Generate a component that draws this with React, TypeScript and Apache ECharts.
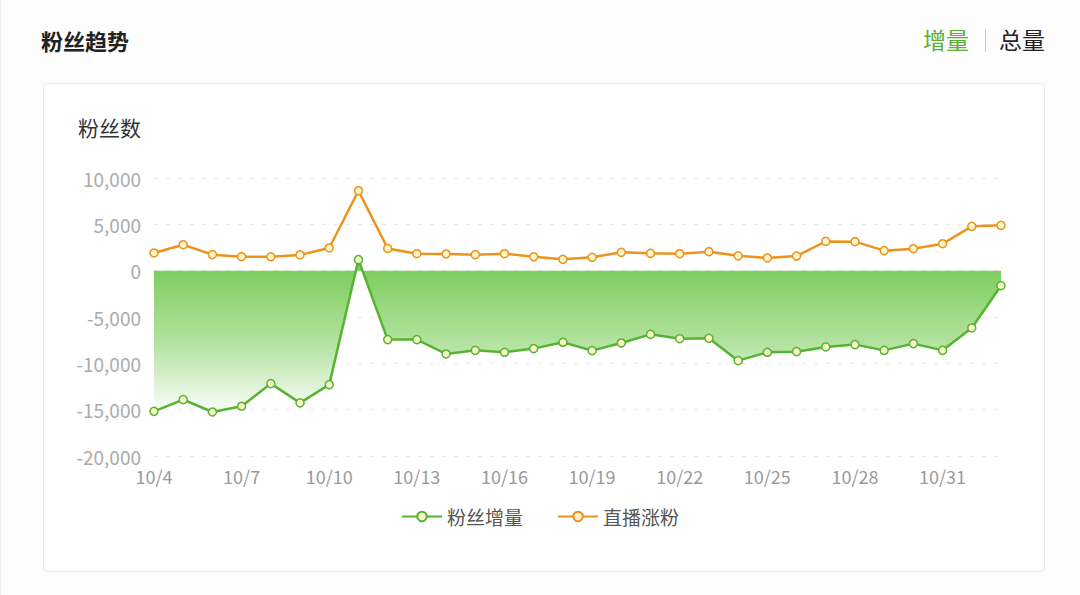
import * as echarts from 'echarts';
import { useEffect, useRef } from 'react';

const dates = [
  '10/4', '10/5', '10/6', '10/7', '10/8', '10/9', '10/10', '10/11', '10/12', '10/13',
  '10/14', '10/15', '10/16', '10/17', '10/18', '10/19', '10/20', '10/21', '10/22', '10/23',
  '10/24', '10/25', '10/26', '10/27', '10/28', '10/29', '10/30', '10/31', '11/1', '11/2'
];

// 粉丝增量
const fanGrowth = [
  -15180, -13920, -15250, -14630, -12190, -14270, -12300, 1190, -7440, -7440,
  -8990, -8600, -8810, -8410, -7730, -8630, -7800, -6870, -7340, -7300,
  -9710, -8810, -8740, -8230, -7980, -8600, -7870, -8600, -6180, -1620
];

// 直播涨粉
const liveGain = [
  1910, 2800, 1730, 1510, 1500, 1700, 2450, 8630, 2400, 1830,
  1800, 1730, 1830, 1500, 1220, 1440, 1980, 1870, 1830, 2050,
  1600, 1370, 1580, 3160, 3130, 2160, 2370, 2910, 4780, 4890
];

const yTicks = { min: -20000, max: 10000, interval: 5000 };

const FONT = '"Noto Sans CJK SC", "Noto Sans", sans-serif';
const GREEN = '#55b432';
const ORANGE = '#ee921f';
const DOT_FILL = '#fbf6c8';

export default function App() {
  const elRef = useRef<HTMLDivElement | null>(null);

  useEffect(() => {
    if (!elRef.current) return;
    const chart = echarts.init(elRef.current, undefined, { renderer: 'svg' });

    chart.setOption({
      animation: false,
      backgroundColor: '#fdfdfd',
      textStyle: { fontFamily: FONT },
      graphic: [
        { type: 'line', shape: { x1: 0.5, y1: 0, x2: 0.5, y2: 595 }, style: { stroke: '#ececec', lineWidth: 1 } },
        {
          type: 'rect',
          shape: { x: 43.5, y: 83.5, width: 1001, height: 488, r: 4 },
          style: { fill: '#ffffff', stroke: '#ebebeb', lineWidth: 1 },
          z: -1
        },
        {
          type: 'text', x: 41, y: 40,
          style: { text: '粉丝趋势', fill: '#222', font: `bold 22px ${FONT}`, verticalAlign: 'middle' }
        },
        {
          type: 'text', x: 923, y: 39,
          style: { text: '增量', fill: '#5aad35', font: `23px ${FONT}`, verticalAlign: 'middle' }
        },
        { type: 'line', shape: { x1: 985.5, y1: 29, x2: 985.5, y2: 52 }, style: { stroke: '#cfcfcf', lineWidth: 1 } },
        {
          type: 'text', x: 999, y: 39,
          style: { text: '总量', fill: '#222', font: `23px ${FONT}`, verticalAlign: 'middle' }
        }
      ],
      grid: { left: 154, right: 79, top: 178, bottom: 139 },
      legend: {
        bottom: 64,
        left: 'center',
        itemWidth: 40,
        itemHeight: 12,
        itemGap: 34,
        textStyle: { color: '#555', fontSize: 19, fontFamily: FONT },
        data: ['粉丝增量', '直播涨粉']
      },
      xAxis: {
        type: 'category',
        data: dates,
        boundaryGap: false,
        axisLine: { show: false },
        axisTick: { show: false },
        axisLabel: { color: '#9a9a9a', fontSize: 18, interval: 2, margin: 11, fontFamily: FONT }
      },
      yAxis: {
        type: 'value',
        min: yTicks.min,
        max: yTicks.max,
        interval: yTicks.interval,
        name: '粉丝数',
        nameGap: 41,
        nameTextStyle: { color: '#333', fontSize: 21, align: 'right', padding: [0, 13, 0, 0], fontFamily: FONT },
        axisLine: { show: false },
        axisTick: { show: false },
        axisLabel: {
          color: '#ababab',
          fontSize: 19,
          margin: 13,
          fontFamily: FONT,
          formatter: (v: number) => v.toLocaleString('en-US')
        },
        splitLine: { lineStyle: { color: '#e6e6e6', type: [4, 8] } }
      },
      series: [
        {
          name: '粉丝增量',
          type: 'line',
          data: fanGrowth,
          symbol: 'circle',
          symbolSize: 8,
          showSymbol: true,
          lineStyle: { color: GREEN, width: 2.5 },
          itemStyle: { color: DOT_FILL, borderColor: GREEN, borderWidth: 1.5 },
          areaStyle: {
            origin: 'auto',
            opacity: 1,
            color: new echarts.graphic.LinearGradient(0, 0, 0, 1, [
              { offset: 0, color: '#76cb56' },
              { offset: 0.55, color: '#b3e2a0' },
              { offset: 1, color: '#fbfefa' }
            ])
          },
          z: 2
        },
        {
          name: '直播涨粉',
          type: 'line',
          data: liveGain,
          symbol: 'circle',
          symbolSize: 8,
          showSymbol: true,
          lineStyle: { color: ORANGE, width: 2.5 },
          itemStyle: { color: DOT_FILL, borderColor: ORANGE, borderWidth: 1.5 },
          z: 3
        }
      ]
    });

    return () => chart.dispose();
  }, []);

  return (
    <div
      ref={elRef}
      style={{ position: 'fixed', left: 0, top: 0, width: 1080, height: 595 }}
    />
  );
}
